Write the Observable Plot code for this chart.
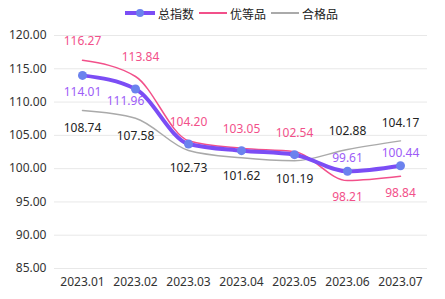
<!DOCTYPE html>
<html>
<head>
<meta charset="utf-8">
<script src="https://cdn.jsdelivr.net/npm/d3@7"></script>
<script src="https://cdn.jsdelivr.net/npm/@observablehq/plot@0.6"></script>
<style>
  body { margin: 0; background: #fff; font-family: "Noto Sans", "Noto Sans CJK SC", sans-serif; }
  #wrap { position: relative; width: 445px; height: 299px; }
  #legend { position: absolute; left: 125px; top: 4px; height: 18px; display: flex; align-items: center; font-size: 12px; color: #222; font-family: "Noto Sans CJK SC", sans-serif; }
  .item { display: flex; align-items: center; margin-right: 5px; }
  .item svg { margin-right: 3px; }
  #chart { position: absolute; left: 0; top: 22px; }
</style>
</head>
<body>
<div id="wrap">
  <div id="legend"></div>
  <div id="chart"></div>
</div>
<script>
const months = ["2023.01","2023.02","2023.03","2023.04","2023.05","2023.06","2023.07"];
const seriesNames = ["总指数","优等品","合格品"];
const totalIndex = [114.01, 111.96, 103.7, 102.7, 102.1, 99.61, 100.44];
const premium = [116.27, 113.84, 104.20, 103.05, 102.54, 98.21, 98.84];
const qualified = [108.74, 107.58, 102.73, 101.62, 101.19, 102.88, 104.17];
const yTicks = [85, 90, 95, 100, 105, 110, 115, 120];

const lineColors = {"总指数": "#7b4df5", "优等品": "#f2508a", "合格品": "#aaaaaa"};
const labelColors = {"总指数": "#9d5cf7", "优等品": "#f2508a", "合格品": "#222222"};
const dotColor = "#6b82ee";

const valuesBy = {"总指数": totalIndex, "优等品": premium, "合格品": qualified};
const data = [];
for (const s of seriesNames) valuesBy[s].forEach((v, i) => data.push({s, m: months[i], v, i}));

// legend
const legend = document.getElementById("legend");
for (const s of seriesNames) {
  const it = document.createElement("div");
  it.className = "item";
  const w = s === "总指数" ? 30 : 28;
  it.innerHTML = `<svg width="${w}" height="12"><line x1="0" x2="${w}" y1="6" y2="6" stroke="${lineColors[s]}" stroke-width="${s === "总指数" ? 4 : 2}" stroke-linecap="round"/>` +
    (s === "总指数" ? `<circle cx="${w/2}" cy="6" r="4" fill="${dotColor}"/>` : "") +
    `</svg><span>${s}</span>`;
  legend.appendChild(it);
}

const fmt = d3.format(".2f");
const sub = (s, f) => data.filter(d => d.s === s && f(d));
const lbl = (arr, s, dy, dx = 0) => Plot.text(arr, {x: "m", y: "v", text: d => fmt(d.v), dy, dx, fill: labelColors[s], fontSize: 12});

const chart = Plot.plot({
  width: 445,
  height: 277,
  marginLeft: 54,
  marginRight: 18,
  marginTop: 13,
  marginBottom: 31,
  style: {fontFamily: "'Noto Sans', 'Noto Sans CJK SC', sans-serif", fontSize: "12px", color: "#333"},
  x: {type: "point", domain: months, padding: 0.5, label: null},
  y: {domain: [85, 120], label: null},
  marks: [
    Plot.gridY(yTicks, {stroke: "#e8e8e8", strokeOpacity: 1}),
    Plot.axisY(yTicks, {tickSize: 0, tickPadding: 8, tickFormat: fmt, fontSize: 12, fill: "#333"}),
    Plot.axisX({tickSize: 0, tickPadding: 9, fontSize: 12, fill: "#333"}),
    Plot.line(sub("合格品", () => true), {x: "m", y: "v", stroke: lineColors["合格品"], strokeWidth: 1.5, curve: "monotone-x"}),
    Plot.line(sub("优等品", () => true), {x: "m", y: "v", stroke: lineColors["优等品"], strokeWidth: 1.5, curve: "monotone-x"}),
    Plot.line(sub("总指数", () => true), {x: "m", y: "v", stroke: lineColors["总指数"], strokeWidth: 4, curve: "monotone-x"}),
    Plot.dot(sub("总指数", () => true), {x: "m", y: "v", r: 4.5, fill: dotColor}),
    lbl(sub("总指数", d => d.i === 0), "总指数", 17),
    lbl(sub("总指数", d => d.i === 1), "总指数", 12, -10),
    lbl(sub("总指数", d => d.i > 4), "总指数", -13),
    lbl(sub("优等品", d => d.v > 100 && d.i !== 1), "优等品", -19),
    lbl(sub("优等品", d => d.i === 1), "优等品", -19, 5),
    lbl(sub("优等品", d => d.v <= 100), "优等品", 17),
    lbl(sub("合格品", d => d.i < 5), "合格品", 18),
    lbl(sub("合格品", d => d.i >= 5), "合格品", -18)
  ]
});
document.getElementById("chart").appendChild(chart);
</script>
</body>
</html>
